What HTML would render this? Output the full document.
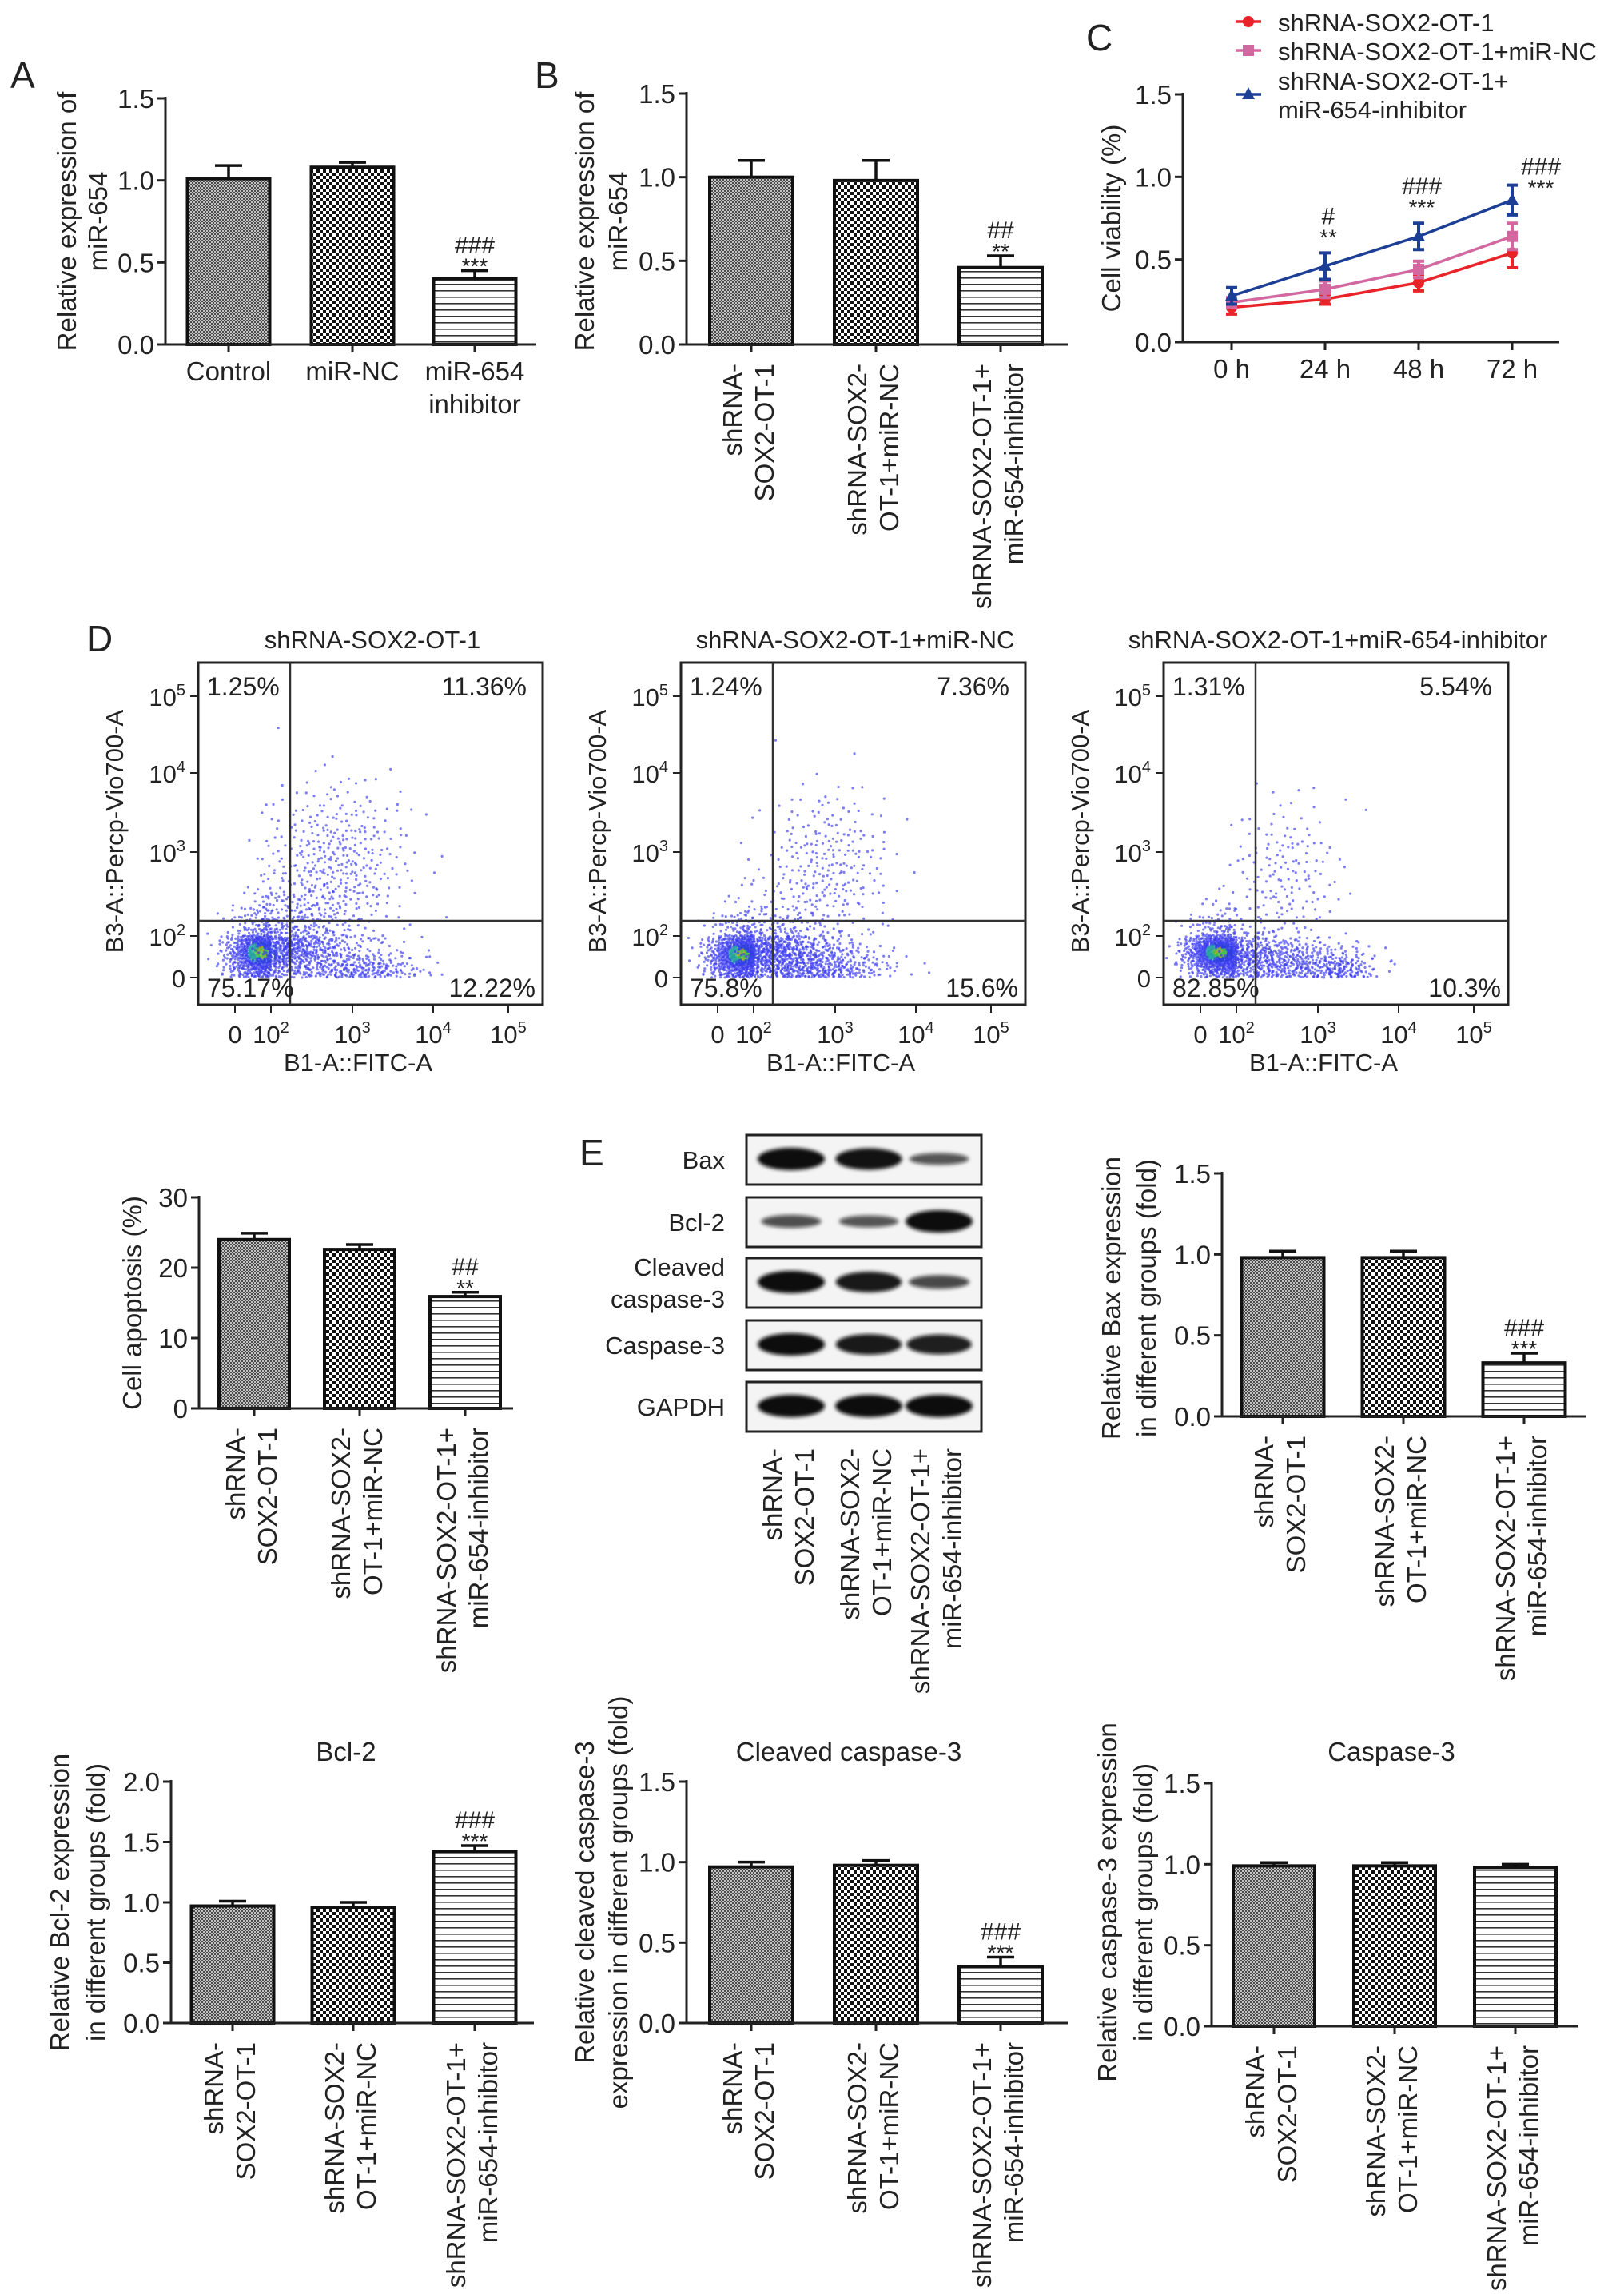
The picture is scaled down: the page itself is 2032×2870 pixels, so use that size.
<!DOCTYPE html>
<html><head><meta charset="utf-8"><title>Figure</title>
<style>
html,body{margin:0;padding:0;background:#fff;}
svg{display:block;font-family:"Liberation Sans",Arial,sans-serif;}
</style></head>
<body>
<svg id="fig" width="2032" height="2870" viewBox="0 0 2032 2870" xmlns="http://www.w3.org/2000/svg">
<defs>
<pattern id="patGray" width="4" height="4" patternUnits="userSpaceOnUse"><rect width="4" height="4" fill="#c4c4c4"/><rect width="2" height="2" fill="#4a4a4a"/><rect x="2" y="2" width="2" height="2" fill="#4a4a4a"/></pattern>
<pattern id="patCheck" width="8" height="8" patternUnits="userSpaceOnUse"><rect width="8" height="8" fill="#fff"/><rect width="4" height="4" fill="#111"/><rect x="4" y="4" width="4" height="4" fill="#111"/></pattern>
<pattern id="patLines" width="8" height="8" patternUnits="userSpaceOnUse"><rect width="8" height="8" fill="#fff"/><rect y="3" width="8" height="1.6" fill="#333"/></pattern>
<filter id="blur" x="-30%" y="-80%" width="160%" height="260%"><feGaussianBlur stdDeviation="2.5"/></filter>
</defs>
<g id="root"></g>
</svg>
<script>
// ---------------- DATA ----------------
const groupLabels = [["shRNA-","SOX2-OT-1"],["shRNA-SOX2-","OT-1+miR-NC"],["shRNA-SOX2-OT-1+","miR-654-inhibitor"]];
const aCats = [["Control"],["miR-NC"],["miR-654","inhibitor"]];
const aVals = [1.01, 1.08, 0.40];
const aErrs = [0.08, 0.03, 0.05];
const aSig = [[],[],["###","***"]];
const bVals = [1.00, 0.98, 0.46];
const bErrs = [0.10, 0.12, 0.07];
const bSig = [[],[],["##","**"]];
const apoVals = [24.0, 22.6, 15.9];
const apoErrs = [0.9, 0.7, 0.6];
const apoSig = [[],[],["##","**"]];
const baxVals = [0.98, 0.98, 0.33];
const baxErrs = [0.04, 0.04, 0.06];
const baxSig = [[],[],["###","***"]];
const bclVals = [0.97, 0.96, 1.42];
const bclErrs = [0.04, 0.04, 0.05];
const bclSig = [[],[],["###","***"]];
const clvVals = [0.97, 0.98, 0.35];
const clvErrs = [0.03, 0.03, 0.06];
const clvSig = [[],[],["###","***"]];
const casVals = [0.99, 0.99, 0.98];
const casErrs = [0.02, 0.02, 0.02];
const casSig = [[],[],[]];
const ticks15 = [0, 0.5, 1.0, 1.5];
const ticks15Labels = ["0.0","0.5","1.0","1.5"];
const ticks20 = [0, 0.5, 1.0, 1.5, 2.0];
const ticks20Labels = ["0.0","0.5","1.0","1.5","2.0"];
const ticks30 = [0, 10, 20, 30];
const ticks30Labels = ["0","10","20","30"];
// line chart C
const timeLabels = ["0 h","24 h","48 h","72 h"];
const redVals = [0.21, 0.26, 0.36, 0.54];
const redErrs = [0.04, 0.03, 0.05, 0.09];
const pinkVals = [0.24, 0.32, 0.44, 0.64];
const pinkErrs = [0.03, 0.05, 0.05, 0.08];
const blueVals = [0.28, 0.46, 0.64, 0.86];
const blueErrs = [0.05, 0.08, 0.08, 0.09];
const cSigTop = ["", "#", "###", "###"];
const cSigBot = ["", "**", "***", "***"];
const legendLabels = [["shRNA-SOX2-OT-1"],["shRNA-SOX2-OT-1+miR-NC"],["shRNA-SOX2-OT-1+","miR-654-inhibitor"]];
// flow cytometry (cluster centres in decade units: u,v,su,sv,count,core)
const flowTitles = ["shRNA-SOX2-OT-1","shRNA-SOX2-OT-1+miR-NC","shRNA-SOX2-OT-1+miR-654-inhibitor"];
const flowPct = [["1.25%","11.36%","75.17%","12.22%"],["1.24%","7.36%","75.8%","15.6%"],["1.31%","5.54%","82.85%","10.3%"]];
const flow1 = [[0.75,0.6,0.5,0.35,1000,1],[1.3,0.9,0.35,0.4,350,0],[1.8,1.8,0.45,0.55,420,0],[2.1,0.1,0.4,0.35,260,0]];
const flow2 = [[0.7,0.55,0.5,0.33,1000,1],[1.3,0.8,0.35,0.35,300,0],[1.9,1.8,0.4,0.5,260,0],[1.8,0.25,0.45,0.35,420,0]];
const flow3 = [[0.55,0.6,0.5,0.3,1050,1],[1.6,1.7,0.35,0.5,160,0],[1.6,0.35,0.5,0.3,450,0],[2.3,-0.2,0.2,0.2,110,0]];
const xTickU = [0,1,2,3,4];
const yTickV = [0,1,2,3,4];
const tickExp = ["", "2", "3", "4", "5"];
// western blot intensities
const blotRows = [["Bax"],["Bcl-2"],["Cleaved","caspase-3"],["Caspase-3"],["GAPDH"]];
const blotInt = [[1.0,0.95,0.4],[0.45,0.4,1.0],[1.0,0.9,0.5],[1.0,0.9,0.85],[1.0,1.0,1.0]];

// ---------------- HELPERS ----------------
const NS="http://www.w3.org/2000/svg";
const root=document.getElementById('root');
function mk(tag,attrs,parent){const e=document.createElementNS(NS,tag);for(const k in attrs)e.setAttribute(k,attrs[k]);(parent||root).appendChild(e);return e;}
function txt(s,x,y,size,anchor,parent,extra){const t=mk('text',Object.assign({x:x,y:y,'font-size':size,'text-anchor':anchor||'start',fill:'#222'},extra||{}),parent);t.textContent=s;return t;}

function letter(s,x,y){const t=txt(s,x,y,46,'start');}

const fills=['url(#patGray)','url(#patCheck)','url(#patLines)'];

function barChart(o){
  const g=mk('g',{});
  
  
  const yS=v=>o.y0-(v/o.max)*(o.y0-o.yTop);
  o.vals.forEach((v,i)=>{
    const cx=o.cx[i], w=o.w;
    const r=mk('rect',{x:cx-w/2,y:yS(v),width:w,height:o.y0-yS(v),fill:fills[i],stroke:'#111','stroke-width':4},g);
    
    
    const top=yS(v+o.errs[i]);
    const eb=mk('path',{d:`M${cx} ${yS(v)} V${top} M${cx-17} ${top} H${cx+17}`,stroke:'#111','stroke-width':3.5,fill:'none'},g);
    
    
    const s=o.sig[i];
    if(s.length){
      const t1=txt(s[0],cx,top-22,30,'middle',g);
      
      
      const t2=txt(s[1],cx,top+4,28,'middle',g);
      
      
    }
  });
  const ax=mk('path',{d:`M${o.ax} ${o.yTop-2} V${o.y0} H${o.xEnd}`,stroke:'#222','stroke-width':3,fill:'none'},g);
  
  
  o.ticks.forEach((t,i)=>{
    const y=yS(t);
    mk('line',{x1:o.ax-10,x2:o.ax,y1:y,y2:y,stroke:'#222','stroke-width':3},g);
    const tl=txt(o.tickLabels[i],o.ax-14,y+12,33,'end',g);
    
    
  });
  o.cx.forEach((cx,i)=>{
    mk('line',{x1:cx,x2:cx,y1:o.y0,y2:o.y0+10,stroke:'#222','stroke-width':3},g);
    const lines=o.cats[i];
    if(o.horizontal){
      lines.forEach((l,j)=>{const t=txt(l,cx,o.y0+45+j*41,33,'middle',g);});
    } else {
      const offs=lines.length===2?[-12,28]:[8];
      lines.forEach((l,j)=>{
        const x=cx+offs[j], y=o.y0+24;
        const t=txt(l,x,y,33,'end',g,{transform:`rotate(-90 ${x} ${y})`});
        
        
      });
    }
  });
  const yc=o.titleY||(o.yTop+o.y0)/2;
  o.ytitle.forEach((l,j)=>{
    const x=o.titleX[j];
    const t=txt(l,x,yc,33,'middle',g,{transform:`rotate(-90 ${x} ${yc})`});
    
    
  });
  if(o.title){const t=txt(o.title,o.titlePos[0],o.titlePos[1],33,'middle',g);}
}

// ---------------- PANELS ----------------
letter('A',13,110); letter('B',669,110); letter('C',1359,63); letter('D',108,815); letter('E',725,1458);

barChart({name:'chart-a',ax:207,yTop:123,y0:431,xEnd:671,max:1.5,cx:[286,441,594],w:103,vals:aVals,errs:aErrs,sig:aSig,cats:aCats,horizontal:true,ticks:ticks15,tickLabels:ticks15Labels,ytitle:["Relative expression of","miR-654"],titleX:[95,134]});
barChart({name:'chart-b',ax:859,yTop:117,y0:431,xEnd:1336,max:1.5,cx:[940,1096,1252],w:104,vals:bVals,errs:bErrs,sig:bSig,cats:groupLabels,ticks:ticks15,tickLabels:ticks15Labels,ytitle:["Relative expression of","miR-654"],titleX:[743,785],titleY:277});
barChart({name:'chart-apoptosis',ax:249,yTop:1498,y0:1762,xEnd:642,max:30,cx:[318,450,582],w:88,vals:apoVals,errs:apoErrs,sig:apoSig,cats:groupLabels,ticks:ticks30,tickLabels:ticks30Labels,ytitle:["Cell apoptosis (%)"],titleX:[177]});
barChart({name:'chart-bax',ax:1529,yTop:1468,y0:1772,xEnd:1984,max:1.5,cx:[1605,1756,1907],w:103,vals:baxVals,errs:baxErrs,sig:baxSig,cats:groupLabels,ticks:ticks15,tickLabels:ticks15Labels,ytitle:["Relative Bax expression","in different groups (fold)"],titleX:[1402,1446],titleY:1624});
barChart({name:'chart-bcl2',ax:214,yTop:2229,y0:2531,xEnd:668,max:2.0,cx:[291,442,594],w:103,vals:bclVals,errs:bclErrs,sig:bclSig,cats:groupLabels,ticks:ticks20,tickLabels:ticks20Labels,ytitle:["Relative Bcl-2 expression","in different groups (fold)"],titleX:[86,131],titleY:2380,title:"Bcl-2",titlePos:[433,2203]});
barChart({name:'chart-cleaved-caspase3',ax:859,yTop:2229,y0:2531,xEnd:1336,max:1.5,cx:[940,1096,1252],w:104,vals:clvVals,errs:clvErrs,sig:clvSig,cats:groupLabels,ticks:ticks15,tickLabels:ticks15Labels,ytitle:["Relative cleaved caspase-3","expression in different groups (fold)"],titleX:[743,785],titleY:2380,title:"Cleaved caspase-3",titlePos:[1062,2203]});
barChart({name:'chart-caspase3',ax:1516,yTop:2231,y0:2535,xEnd:1975,max:1.5,cx:[1594,1745,1896],w:102,vals:casVals,errs:casErrs,sig:casSig,cats:groupLabels,ticks:ticks15,tickLabels:ticks15Labels,ytitle:["Relative caspase-3 expression","in different groups (fold)"],titleX:[1397,1442],titleY:2380,title:"Caspase-3",titlePos:[1741,2203]});

// ---------------- LINE CHART C ----------------
(function(){
  const g=mk('g',{});
  
  
  const ax=1480,yTop=118,y0=428,xEnd=1951;
  const yS=v=>y0-(v/1.5)*(y0-yTop);
  const xS=i=>1541+i*117;
  const series=[[redVals,redErrs,'#e8232a','circle'],[pinkVals,pinkErrs,'#d2689f','square'],[blueVals,blueErrs,'#1c3f95','triangle']];
  function marker(shape,x,y,c,par){
    if(shape==='circle')return mk('circle',{cx:x,cy:y,r:7,fill:c},par);
    if(shape==='square')return mk('rect',{x:x-7,y:y-7,width:14,height:14,fill:c},par);
    return mk('path',{d:`M${x} ${y-9} L${x+8} ${y+6} L${x-8} ${y+6}Z`,fill:c},par);
  }
  series.forEach((s,si)=>{
    const [vals,errs,c,shape]=s;
    const p=mk('polyline',{points:vals.map((v,i)=>xS(i)+','+yS(v)).join(' '),fill:'none',stroke:c,'stroke-width':3.5},g);
    
    
    vals.forEach((v,i)=>{
      const x=xS(i),t=yS(v+errs[i]),b=yS(v-errs[i]);
      const e=mk('path',{d:`M${x} ${t} V${b} M${x-7} ${t} H${x+7} M${x-7} ${b} H${x+7}`,stroke:c,'stroke-width':4,fill:'none'},g);
      
      
      const m=marker(shape,x,yS(v),c,g);
      
      
    });
  });
  cSigTop.forEach((s,i)=>{
    if(!s)return;
    const x=i===3?xS(i)+36:xS(i)+4;
    const top=i===3?yS(blueVals[i])-32:yS(blueVals[i]+blueErrs[i])-36;
    const t1=txt(s,x,top,30,'middle',g);
    
    
    const t2=txt(cSigBot[i],x,top+26,28,'middle',g);
    
    
  });
  const a=mk('path',{d:`M${ax} ${yTop-2} V${y0} H${xEnd}`,stroke:'#222','stroke-width':3,fill:'none'},g);
  
  
  ticks15.forEach((t,i)=>{const y=yS(t);mk('line',{x1:ax-10,x2:ax,y1:y,y2:y,stroke:'#222','stroke-width':3},g);const l=txt(ticks15Labels[i],ax-14,y+12,33,'end',g);});
  timeLabels.forEach((s,i)=>{const x=xS(i);mk('line',{x1:x,x2:x,y1:y0,y2:y0+10,stroke:'#222','stroke-width':3},g);const l=txt(s,x,y0+45,33,'middle',g);});
  const yt=txt('Cell viability (%)',1402,273,33,'middle',g,{transform:'rotate(-90 1402 273)'});
  
  
  const legY=[27,63,100];
  series.forEach((s,si)=>{
    const lg=mk('g',{},g);
    
    
    const y=legY[si]+(si===2?18:0);
    mk('line',{x1:1546,x2:1578,y1:y,y2:y,stroke:s[2],'stroke-width':3.5},lg);
    marker(s[3],1562,y,s[2],lg);
    legendLabels[si].forEach((l,j)=>txt(l,1599,legY[si]+12+j*36,31,'start',lg));
  });
})();

// ---------------- FLOW CYTOMETRY ----------------
function halton(i,b){let f=1,r=0;while(i>0){f/=b;r+=f*(i%b);i=Math.floor(i/b);}return r;}
const xBreak=[46,91,193,294,388], yBreak=[1223,1171,1066,967,871];
function interp(u,br,slope0){if(u<=0)return br[0]+u*slope0;if(u>=4)return br[4]+(u-4)*(br[4]-br[3]);const k=Math.floor(u);return br[k]+(u-k)*(br[k+1]-br[k]);}
[flow1,flow2,flow3].forEach((blobs,pi)=>{
  const x0=248+pi*604, y1=829, w=431, h=428;
  const g=mk('g',{});
  
  
  const t=txt(flowTitles[pi],x0+218,811,31,'middle',g);
  
  
  const dots=mk('g',{},g);
  let idx=1;
  blobs.forEach(b=>{
    const [cu,cv,su,sv,n,core]=b;
    for(let k=0;k<n;k++,idx++){
      const h1=Math.max(halton(idx,2),1e-4),h2=halton(idx,3);
      const r=Math.sqrt(-2*Math.log(h1));
      const u=cu+su*r*Math.cos(2*Math.PI*h2), v=cv+sv*r*Math.sin(2*Math.PI*h2);
      const px=x0+interp(u,xBreak,45), py=interp(v,yBreak,52);
      if(px<x0+3||px>x0+w-3||py<y1+3||py>y1+h-3)continue;
      let c='#3b3bf0';
      if(core&&r<0.4)c=(k%5===0)?'#d8a020':'#3cbf4a';
      else if(core&&r<0.8)c=(k%3===0)?'#20a0a0':'#2a3ae0';
      const d=mk('circle',{cx:px.toFixed(1),cy:py.toFixed(1),r:1.6,fill:c,'fill-opacity':0.65},dots);
      
      
    }
  });
  const box=mk('rect',{x:x0,y:y1,width:w,height:h,fill:'none',stroke:'#222','stroke-width':3},g);
  
  
  const q=mk('path',{d:`M${x0+115} ${y1} V${y1+h} M${x0} 1152 H${x0+w}`,stroke:'#333','stroke-width':2.5,fill:'none'},g);
  
  
  const pc=flowPct[pi];
  [[pc[0],x0+11,870,'start'],[pc[1],x0+w-20,870,'end'],[pc[2],x0+11,1247,'start'],[pc[3],x0+w-9,1247,'end']].forEach(a=>{const e=txt(a[0],a[1],a[2],32,a[3],g);});
  xTickU.forEach((u,i)=>{
    const x=x0+interp(u,xBreak,45);
    mk('line',{x1:x,x2:x,y1:y1+h,y2:y1+h+10,stroke:'#222','stroke-width':2},g);
    const e=mk('text',{x:x,y:1305,'font-size':31,'text-anchor':'middle',fill:'#222'},g);
    
    
    if(i===0)e.textContent='0';else{e.textContent='10';const s=mk('tspan',{'font-size':20,dy:-13},e);s.textContent=tickExp[i];}
  });
  yTickV.forEach((v,i)=>{
    const y=interp(v,yBreak,52);
    mk('line',{x1:x0-10,x2:x0,y1:y,y2:y,stroke:'#222','stroke-width':2},g);
    const e=mk('text',{x:x0-16,y:y+12,'font-size':31,'text-anchor':'end',fill:'#222'},g);
    
    
    if(i===0)e.textContent='0';else{e.textContent='10';const s=mk('tspan',{'font-size':20,dy:-13},e);s.textContent=tickExp[i];}
  });
  const xt=txt('B1-A::FITC-A',x0+200,1340,31,'middle',g);
  
  
  const yx=x0-94;
  const yt=txt('B3-A::Percp-Vio700-A',yx,1040,31,'middle',g,{transform:`rotate(-90 ${yx} 1040)`});
  
  
});

// ---------------- WESTERN BLOT ----------------
(function(){
  const g=mk('g',{});
  
  
  const rowY=[1420,1498,1574,1652,1729], lanes=[990,1087,1175];
  blotRows.forEach((lab,ri)=>{
    const y=rowY[ri];
    const rg=mk('g',{},g);
    
    
    mk('rect',{x:934,y:y,width:294,height:62,fill:'#f4f4f4',stroke:'#222','stroke-width':3},rg);
    blotInt[ri].forEach((v,li)=>{
      const b=mk('ellipse',{cx:lanes[li],cy:y+30,rx:34+8*v,ry:3+11*v,fill:'#0a0a0a','fill-opacity':0.5+0.5*v,filter:'url(#blur)'},rg);
      
      
    });
    if(lab.length===1){txt(lab[0],907,y+42,31,'end',rg);}
    else{txt(lab[0],907,y+22,31,'end',rg);txt(lab[1],907,y+62,31,'end',rg);}
  });
  lanes.forEach((cx,i)=>{
    const lines=groupLabels[i];
    [-12,28].forEach((o,j)=>{
      const x=cx+o,y=1812;
      const t=txt(lines[j],x,y,33,'end',g,{transform:`rotate(-90 ${x} ${y})`});
      
      
    });
  });
})();
</script>
</body></html>
